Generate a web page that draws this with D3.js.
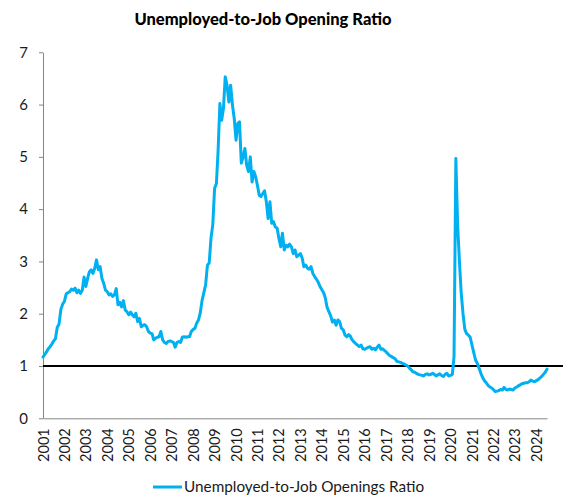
<!DOCTYPE html>
<html>
<head>
<meta charset="utf-8">
<script src="https://cdn.jsdelivr.net/npm/d3@7"></script>
<style>
  html, body { margin: 0; padding: 0; background: #fff; }
  svg { display: block; font-family: Lato, "Open Sans", sans-serif; }
</style>
</head>
<body>
<svg id="chart" width="564" height="495"></svg>
<script>
// Monthly unemployed persons per job opening, January 2001 onward
const firstMonth = new Date(2001, 0, 1);
const ratio = [
  // 2001
  1.17, 1.22, 1.27, 1.33, 1.37, 1.42, 1.48, 1.52, 1.74, 1.80, 2.08, 2.18,
  // 2002
  2.24, 2.38, 2.40, 2.42, 2.47, 2.45, 2.49, 2.40, 2.45, 2.39, 2.45, 2.70,
  // 2003
  2.52, 2.68, 2.80, 2.84, 2.77, 2.87, 3.03, 2.84, 2.90, 2.68, 2.58, 2.45,
  // 2004
  2.42, 2.36, 2.38, 2.33, 2.36, 2.48, 2.17, 2.22, 2.13, 2.25, 2.07, 2.04,
  // 2005
  1.98, 2.03, 1.98, 1.94, 2.01, 1.85, 1.91, 1.75, 1.78, 1.79, 1.75, 1.66,
  // 2006
  1.63, 1.62, 1.50, 1.53, 1.55, 1.56, 1.66, 1.50, 1.45, 1.43, 1.47, 1.48,
  // 2007
  1.47, 1.45, 1.36, 1.45, 1.47, 1.45, 1.55, 1.56, 1.55, 1.56, 1.56, 1.66,
  // 2008
  1.70, 1.72, 1.82, 1.88, 2.01, 2.25, 2.40, 2.55, 2.93, 2.97, 3.45, 3.70,
  // 2009
  4.40, 4.49, 5.10, 6.02, 5.70, 5.93, 6.53, 6.37, 6.05, 6.37, 5.99, 5.74,
  // 2010
  5.32, 5.64, 5.67, 4.88, 5.00, 5.16, 4.84, 4.72, 5.00, 4.52, 4.72, 4.62,
  // 2011
  4.45, 4.26, 4.24, 4.30, 4.35, 4.14, 3.82, 4.14, 3.73, 3.76, 3.66, 3.64,
  // 2012
  3.44, 3.28, 3.54, 3.22, 3.31, 3.28, 3.33, 3.28, 3.15, 3.22, 3.09, 3.12,
  // 2013
  3.15, 3.06, 2.90, 2.93, 2.87, 2.85, 2.90, 2.77, 2.71, 2.66, 2.60, 2.52,
  // 2014
  2.46, 2.40, 2.30, 2.12, 2.04, 1.96, 1.84, 1.88, 1.78, 1.88, 1.85, 1.72,
  // 2015
  1.69, 1.59, 1.56, 1.60, 1.57, 1.50, 1.46, 1.43, 1.40, 1.37, 1.40, 1.33,
  // 2016
  1.32, 1.34, 1.36, 1.37, 1.32, 1.34, 1.31, 1.36, 1.40, 1.32, 1.33, 1.30,
  // 2017
  1.27, 1.23, 1.20, 1.18, 1.16, 1.14, 1.09, 1.08, 1.07, 1.05, 1.04, 1.02,
  // 2018
  1.00, 0.96, 0.93, 0.89, 0.88, 0.86, 0.84, 0.83, 0.82, 0.81, 0.84, 0.85,
  // 2019
  0.83, 0.84, 0.86, 0.84, 0.81, 0.83, 0.85, 0.82, 0.80, 0.84, 0.86, 0.81,
  // 2020
  0.82, 0.84, 1.18, 4.97, 3.70, 3.00, 2.40, 2.00, 1.70, 1.62, 1.59, 1.55,
  // 2021
  1.40, 1.25, 1.12, 1.05, 0.96, 0.86, 0.78, 0.72, 0.68, 0.63, 0.60, 0.58,
  // 2022
  0.55, 0.51, 0.52, 0.53, 0.55, 0.54, 0.59, 0.55, 0.54, 0.56, 0.55, 0.54,
  // 2023
  0.58, 0.60, 0.62, 0.64, 0.66, 0.67, 0.68, 0.68, 0.70, 0.73, 0.71, 0.70,
  // 2024
  0.72, 0.74, 0.77, 0.80, 0.84, 0.88, 0.94
];
const yearLabels = d3.range(2001, 2025).map(String);
const yTickValues = [0, 1, 2, 3, 4, 5, 6, 7];
const referenceLevel = 1;
const titleText = "Unemployed-to-Job Opening Ratio";
const seriesName = "Unemployed-to-Job Openings Ratio";

const lineColor = "#00B0F0";
const axisColor = "#868686";
const textColor = "#1a1a1a";

const months = ratio.map((_, i) => d3.timeMonth.offset(firstMonth, i));
const series = months.map((d, i) => ({ date: d, value: ratio[i] }));

const svg = d3.select("#chart");
const plot = { left: 43, right: 547, top: 52.3, bottom: 418.3 };

const x = d3.scaleTime()
  .domain([firstMonth, months[months.length - 1]])
  .range([plot.left, plot.right]);
const y = d3.scaleLinear()
  .domain([0, 7])
  .range([plot.bottom, plot.top]);

// Title
svg.append("text")
  .attr("x", 263)
  .attr("y", 25)
  .attr("text-anchor", "middle")
  .attr("font-weight", 900)
  .attr("font-size", 16.5)
  .attr("fill", "#000")
  .text(titleText);

// Y axis
const yAxis = svg.append("g")
  .attr("transform", `translate(${plot.left},0)`)
  .call(d3.axisLeft(y).tickValues(yTickValues).tickFormat(d3.format("d"))
    .tickSize(4).tickSizeOuter(0).tickPadding(11));
yAxis.select(".domain").attr("stroke", axisColor);
yAxis.selectAll(".tick line").attr("stroke", axisColor);
yAxis.selectAll(".tick text")
  .attr("font-size", 15).attr("fill", textColor)
  .attr("font-family", "Lato, sans-serif");

// X axis with rotated year labels at each January
const yearDates = yearLabels.map(s => new Date(+s, 0, 1));
const xAxis = svg.append("g")
  .attr("transform", `translate(0,${plot.bottom})`)
  .call(d3.axisBottom(x).tickValues(yearDates).tickFormat(d3.timeFormat("%Y"))
    .tickSize(0).tickSizeOuter(0).tickPadding(0));
xAxis.select(".domain").attr("stroke", axisColor);
xAxis.selectAll(".tick text")
  .attr("font-size", 14.5).attr("fill", textColor)
  .attr("font-family", "Lato, sans-serif")
  .attr("text-anchor", "end")
  .attr("transform", "rotate(-90)")
  .attr("x", -10)
  .attr("y", 0)
  .attr("dy", "0.35em");

// Reference line at a ratio of 1
svg.append("line")
  .attr("x1", plot.left)
  .attr("x2", 563)
  .attr("y1", y(referenceLevel))
  .attr("y2", y(referenceLevel))
  .attr("stroke", "#000")
  .attr("stroke-width", 2);

// Series line
const line = d3.line()
  .x(d => x(d.date))
  .y(d => y(d.value));
svg.append("path")
  .datum(series)
  .attr("fill", "none")
  .attr("stroke", lineColor)
  .attr("stroke-width", 3)
  .attr("stroke-linejoin", "round")
  .attr("stroke-linecap", "round")
  .attr("d", line);

// Legend
const legend = svg.append("g").attr("transform", "translate(153,487)");
legend.append("line")
  .attr("x1", 0).attr("x2", 29)
  .attr("stroke", lineColor).attr("stroke-width", 3);
legend.append("text")
  .attr("x", 31)
  .attr("y", 0)
  .attr("dy", "0.35em")
  .attr("font-size", 15.3)
  .attr("fill", textColor)
  .text(seriesName);
</script>
</body>
</html>
